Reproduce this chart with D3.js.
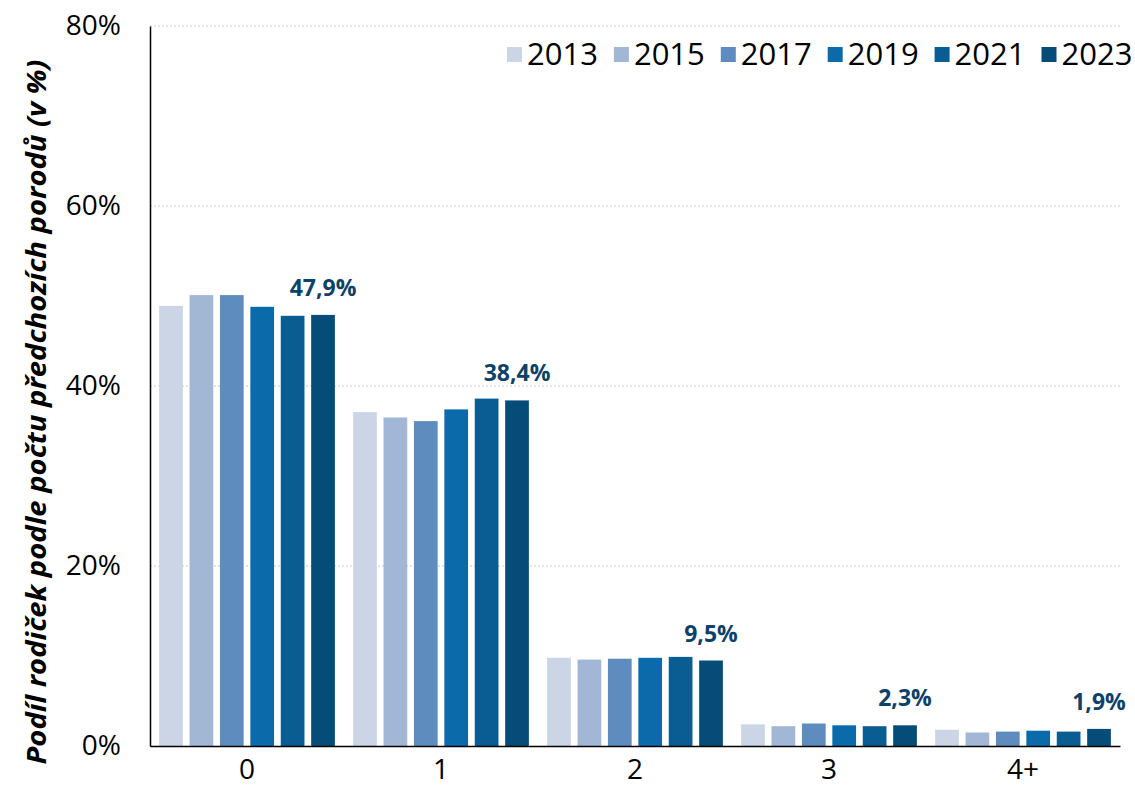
<!DOCTYPE html>
<html>
<head>
<meta charset="utf-8">
<script src="https://cdn.jsdelivr.net/npm/d3@7"></script>
<style>
  body { margin: 0; background: #fff; }
  svg text { font-family: "Open Sans", sans-serif; }
</style>
</head>
<body>
<svg id="chart" width="1135" height="801"></svg>
<script>
var categories = ["0", "1", "2", "3", "4+"];
var years = ["2013", "2015", "2017", "2019", "2021", "2023"];
var v2013 = [48.9, 37.1, 9.8, 2.4, 1.8];
var v2015 = [50.1, 36.5, 9.6, 2.2, 1.5];
var v2017 = [50.1, 36.1, 9.7, 2.5, 1.6];
var v2019 = [48.8, 37.4, 9.8, 2.3, 1.7];
var v2021 = [47.8, 38.6, 9.9, 2.2, 1.6];
var v2023 = [47.9, 38.4, 9.5, 2.3, 1.9];
var labels2023 = ["47,9%", "38,4%", "9,5%", "2,3%", "1,9%"];
var yTicks = [0, 20, 40, 60, 80];
var colors = ["#cbd5e6", "#a2b6d6", "#5f8cbe", "#0b6baa", "#095d93", "#064c78"];

var series = [v2013, v2015, v2017, v2019, v2021, v2023];

var margin = {top: 26, right: 15, bottom: 55, left: 150},
  width = 1135 - margin.left - margin.right,
  height = 801 - margin.top - margin.bottom;

var svg = d3.select("#chart")
  .append("g")
  .attr("transform", "translate(" + margin.left + "," + margin.top + ")");

var x0 = d3.scaleBand().domain(categories).range([0, width]);
var x1 = d3.scaleBand().domain(years).range([0, x0.bandwidth()])
  .paddingInner(0.22).paddingOuter(0.3);
var y = d3.scaleLinear().domain([0, 80]).range([height, 0]);

// gridlines
svg.selectAll(".grid")
  .data(yTicks.filter(function(d) { return d > 0; }))
  .enter().append("line")
  .attr("x1", 0).attr("x2", width)
  .attr("y1", function(d) { return y(d); })
  .attr("y2", function(d) { return y(d); })
  .attr("stroke", "#c8c8c8")
  .attr("stroke-width", 1)
  .attr("stroke-dasharray", "2,2");

// bars
var groups = svg.selectAll(".group")
  .data(categories)
  .enter().append("g")
  .attr("transform", function(d) { return "translate(" + x0(d) + ",0)"; });

groups.selectAll("rect")
  .data(function(d, i) {
    return years.map(function(yr, j) { return {year: yr, value: series[j][i], color: colors[j]}; });
  })
  .enter().append("rect")
  .attr("x", function(d) { return x1(d.year); })
  .attr("width", x1.bandwidth())
  .attr("y", function(d) { return y(d.value); })
  .attr("height", function(d) { return y(0) - y(d.value); })
  .attr("fill", function(d) { return d.color; });

// value labels over 2023 bars
svg.selectAll(".vlabel")
  .data(categories)
  .enter().append("text")
  .attr("x", function(d) { return x0(d) + x1("2023") + x1.bandwidth() / 2; })
  .attr("y", function(d, i) { return y(v2023[i]) - 19; })
  .attr("text-anchor", "middle")
  .attr("font-size", 23)
  .attr("font-weight", "bold")
  .attr("fill", "#0d4168")
  .text(function(d, i) { return labels2023[i]; });

// axes
var yAxis = d3.axisLeft(y).tickValues(yTicks).tickSize(0).tickPadding(29)
  .tickFormat(function(d) { return d + "%"; });
var gy = svg.append("g").call(yAxis);
gy.select(".domain").attr("stroke", "#000").attr("stroke-width", 1.5);
gy.selectAll("text").attr("font-size", 28).attr("fill", "#000")
  .style("font-family", "'Open Sans', sans-serif");

var xAxis = d3.axisBottom(x0).tickSize(0).tickPadding(13);
var gx = svg.append("g").attr("transform", "translate(0," + height + ")").call(xAxis);
gx.select(".domain").attr("stroke", "#000").attr("stroke-width", 1.5);
gx.selectAll("text").attr("font-size", 28).attr("fill", "#000")
  .style("font-family", "'Open Sans', sans-serif");

// y axis title
d3.select("#chart").append("text")
  .attr("transform", "translate(46,412) rotate(-90)")
  .attr("text-anchor", "middle")
  .attr("font-size", 26)
  .attr("font-weight", "bold")
  .attr("font-style", "italic")
  .attr("textLength", 705)
  .attr("lengthAdjust", "spacingAndGlyphs")
  .text("Podíl rodiček podle počtu předchozích porodů (v %)");

// legend
var legend = d3.select("#chart").append("g")
  .attr("transform", "translate(507,44)");
var item = legend.selectAll(".leg")
  .data(years)
  .enter().append("g")
  .attr("transform", function(d, i) { return "translate(" + (i * 106.9) + ",0)"; });
item.append("rect")
  .attr("width", 15).attr("height", 15).attr("y", 3)
  .attr("fill", function(d, i) { return colors[i]; });
item.append("text")
  .attr("x", 20).attr("y", 21)
  .attr("font-size", 31)
  .attr("fill", "#000")
  .text(function(d) { return d; });
</script>
</body>
</html>
